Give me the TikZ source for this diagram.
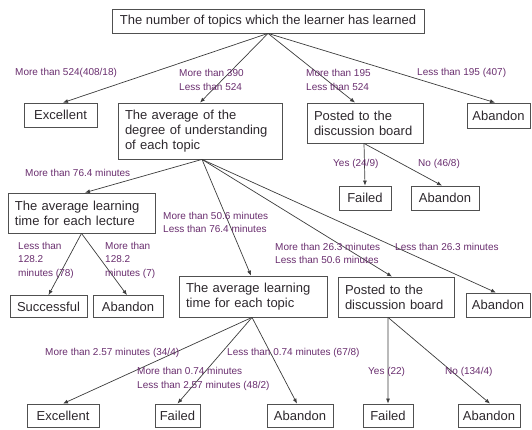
\documentclass[tikz,border=0pt]{standalone}
\usepackage{fontspec}
\setmainfont{Liberation Sans}
\usetikzlibrary{arrows.meta,calc}
\definecolor{boxc}{RGB}{80,80,80}
\definecolor{linec}{RGB}{60,60,60}
\definecolor{txtc}{RGB}{45,40,45}
\definecolor{labc}{RGB}{105,45,110}
\tikzset{
  bx/.style={draw=boxc, line width=0.8bp, inner sep=0pt, text=txtc,
    font=\fontsize{13bp}{15bp}\selectfont, align=center},
  mbx/.style={bx, align=left, inner xsep=7bp},
  lab/.style={anchor=west, inner sep=0pt, text=labc, align=left,
    font=\fontsize{10bp}{13.5bp}\selectfont},
  conn/.style={draw=linec, line width=0.7bp, -{Latex[length=5bp,width=4bp]}}
}
\begin{document}
\begin{tikzpicture}[x=1bp,y=-1bp]
\useasboundingbox (0,0) rectangle (532,429);
% boxes
\node[bx, minimum width=312bp, minimum height=24bp] (root) at (268,21) {The number of topics which the learner has learned};
\node[bx, minimum width=73bp, minimum height=24bp] (exc1) at (60.5,115) {Excellent};
\node[mbx, minimum width=164bp, minimum height=56bp, text width=150bp] (avg) at (200,131) {The average of the\\degree of understanding\\of each topic};
\node[mbx, minimum width=116bp, minimum height=40bp, text width=102bp] (post1) at (365,123) {Posted to the\\discussion board};
\node[bx, minimum width=63bp, minimum height=25bp] (ab1) at (498.5,115.5) {Abandon};
\node[bx, minimum width=52bp, minimum height=24bp] (fail1) at (365,198) {Failed};
\node[bx, minimum width=68bp, minimum height=24bp] (ab2) at (445,198) {Abandon};
\node[mbx, minimum width=147bp, minimum height=40bp, text width=133bp] (lect) at (81.5,213) {The average learning\\time for each lecture};
\node[bx, minimum width=77bp, minimum height=22bp] (succ) at (48.5,306.5) {Successful};
\node[bx, minimum width=70bp, minimum height=22bp] (ab3) at (128,306.5) {Abandon};
\node[mbx, minimum width=148bp, minimum height=41bp, text width=134bp] (topic) at (253,296.5) {The average learning\\time for each topic};
\node[mbx, minimum width=116bp, minimum height=40bp, text width=102bp] (post2) at (396,297) {Posted to the\\discussion board};
\node[bx, minimum width=64bp, minimum height=24bp] (ab4) at (498,305) {Abandon};
\node[bx, minimum width=72bp, minimum height=23bp] (exc2) at (63,415.5) {Excellent};
\node[bx, minimum width=45bp, minimum height=23bp] (fail2) at (177.5,415.5) {Failed};
\node[bx, minimum width=66bp, minimum height=23bp] (ab5) at (300,415.5) {Abandon};
\node[bx, minimum width=50bp, minimum height=23bp] (fail3) at (388,415.5) {Failed};
\node[bx, minimum width=62bp, minimum height=23bp] (ab6) at (489,415.5) {Abandon};
% connectors
\draw[conn] (root.south) -- ([xshift=2.5bp]exc1.north);
\draw[conn] (root.south) -- (avg.north);
\draw[conn] (root.south) -- ([xshift=-10bp]post1.north);
\draw[conn] (root.south) -- ([xshift=-3.5bp]ab1.north);
\draw[conn] ([xshift=-1bp]post1.south) -- (fail1.north);
\draw[conn] ([xshift=-1bp]post1.south) -- ([xshift=-3bp]ab2.north);
\draw[conn] ([xshift=2bp]avg.south) -- ([xshift=3.5bp]lect.north);
\draw[conn] ([xshift=2bp]avg.south) -- ([xshift=-2bp]topic.north);
\draw[conn] ([xshift=2bp]avg.south) -- ([xshift=-4bp]post2.north);
\draw[conn] ([xshift=2bp]avg.south) -- ([xshift=-2bp]ab4.north);
\draw[conn] (lect.south) -- (succ.north);
\draw[conn] (lect.south) -- ([xshift=-1bp]ab3.north);
\draw[conn] ([xshift=-1bp]topic.south) -- (exc2.north);
\draw[conn] ([xshift=-1bp]topic.south) -- (fail2.north);
\draw[conn] ([xshift=-1bp]topic.south) -- ([xshift=-3bp]ab5.north);
\draw[conn] ([xshift=-8bp]post2.south) -- (fail3.north);
\draw[conn] ([xshift=-8bp]post2.south) -- ([xshift=1bp]ab6.north);
% labels
\node[lab] (l1) at (15,73) {More than 524(408/18)};
\node[lab] (l2) at (179,80) {More than 390\\Less than 524};
\node[lab] (l3) at (306,80) {More than 195\\Less than 524};
\node[lab] (l4) at (417,73) {Less than 195 (407)};
\node[lab] (l5) at (333,164) {Yes (24/9)};
\node[lab] (l6) at (418,164) {No (46/8)};
\node[lab] (l7) at (25,173) {More than 76.4 minutes};
\node[lab] (l8) at (18,260) {Less than\\128.2\\minutes (78)};
\node[lab] (l9) at (105,260) {More than\\128.2\\minutes (7)};
\node[lab] (l10) at (163,222.5) {More than 50.6 minutes\\Less than 76.4 minutes};
\node[lab] (l11) at (275,253.5) {More than 26.3 minutes\\Less than 50.6 minutes};
\node[lab] (l12) at (395,247) {Less than 26.3 minutes};
\node[lab] (l13) at (45,353) {More than 2.57 minutes (34/4)};
\node[lab] (l14) at (137,379) {More than 0.74 minutes\\Less than 2.57 minutes (48/2)};
\node[lab] (l15) at (227,353) {Less than 0.74 minutes (67/8)};
\node[lab] (l16) at (368,372) {Yes (22)};
\node[lab] (l17) at (445,372) {No (134/4)};
\end{tikzpicture}
\end{document}
